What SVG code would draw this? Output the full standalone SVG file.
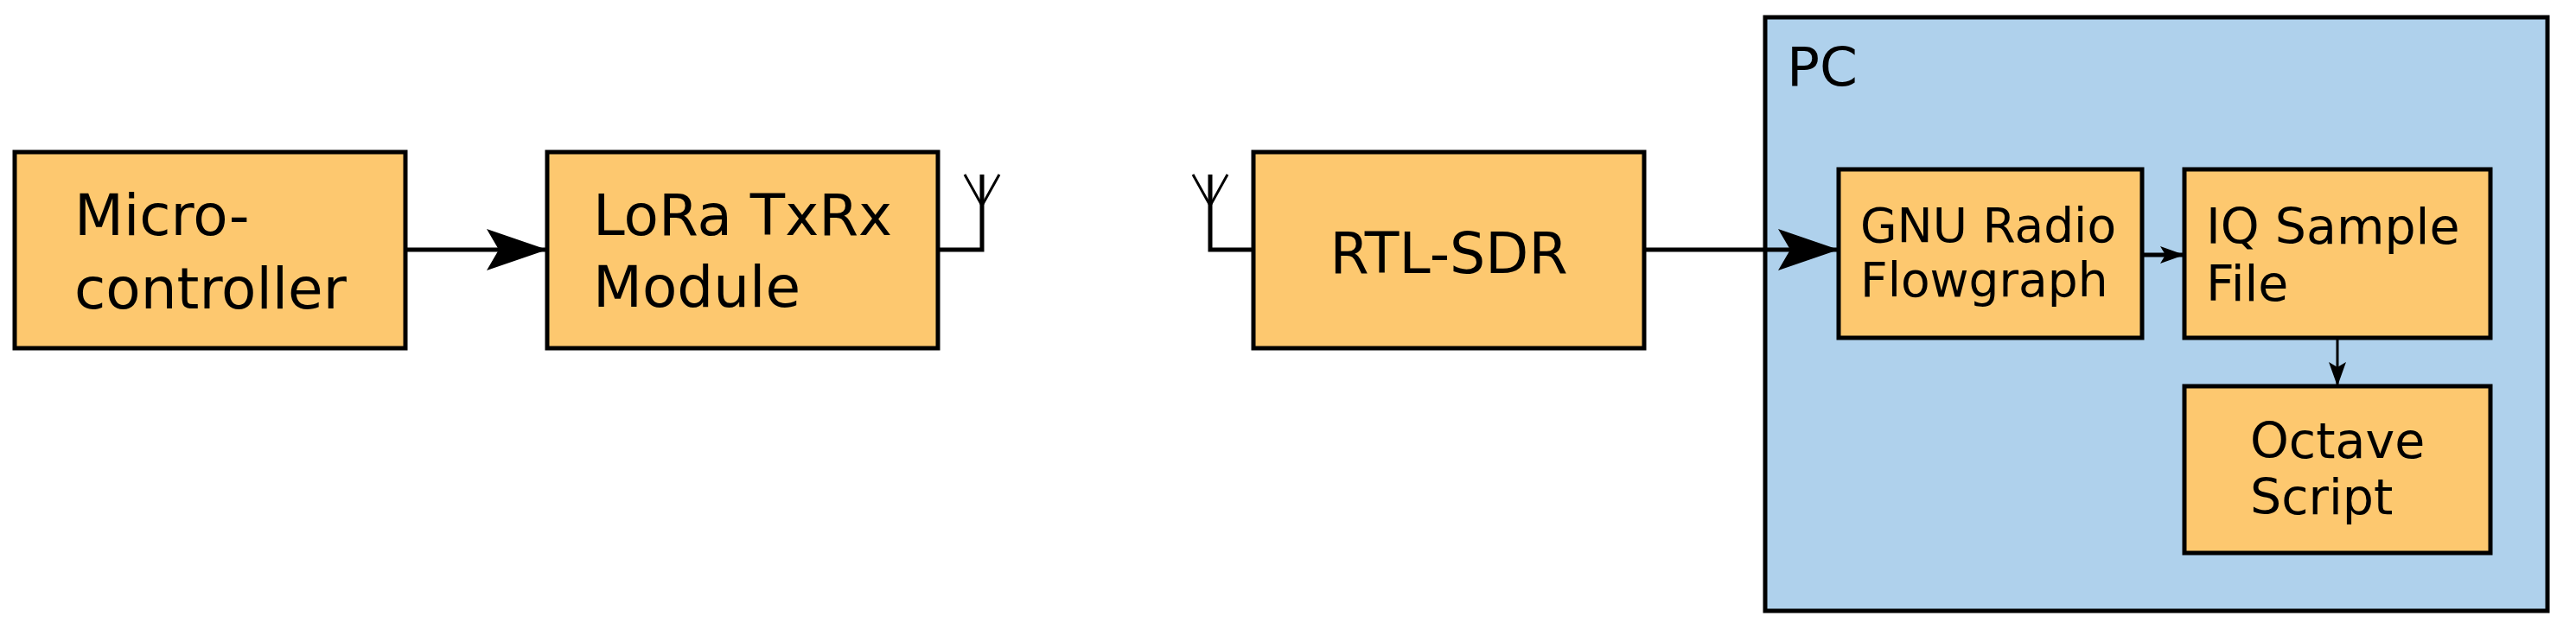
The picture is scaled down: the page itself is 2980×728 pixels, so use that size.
<svg xmlns="http://www.w3.org/2000/svg" width="2980" height="728" viewBox="0 0 2980 728">
<style>
.b{fill:#fdc86f;stroke:#000;stroke-width:5}
.t{font-family:"DejaVu Sans",sans-serif;fill:#000}
.l{fill:none;stroke:#000;stroke-width:5}
.s{fill:none;stroke:#000;stroke-width:3}
</style>
<defs>
<marker id="big" markerUnits="userSpaceOnUse" markerWidth="80" markerHeight="60" refX="70" refY="24" orient="auto"><path d="M0,0 L70,24 L0,48 L14,24 Z" fill="#000"/></marker>
<marker id="sm" markerUnits="userSpaceOnUse" markerWidth="30" markerHeight="24" refX="28" refY="10" orient="auto"><path d="M0,0 L28,10 L0,20 L6,10 Z" fill="#000"/></marker>
</defs>
<g id="pc"><rect x="2042" y="20" width="905" height="687" fill="#afd1ec" stroke="#000" stroke-width="5"/><text class="t" x="2067" y="99" font-size="63">PC</text></g>
<g id="micro"><rect class="b" x="17" y="176" width="452" height="227"/><text class="t" font-size="66"><tspan x="86" y="272">Micro-</tspan><tspan x="86" y="357">controller</tspan></text></g>
<g id="lora"><rect class="b" x="633" y="176" width="452" height="227"/><text class="t" font-size="66"><tspan x="686" y="272">LoRa TxRx</tspan><tspan x="686" y="355">Module</tspan></text></g>
<g id="rtl"><rect class="b" x="1450" y="176" width="452" height="227"/><text class="t" font-size="65" x="1676" y="316" text-anchor="middle">RTL-SDR</text></g>
<g id="gnu"><rect class="b" x="2127" y="196" width="351" height="195"/><text class="t" font-size="55"><tspan x="2152" y="280">GNU Radio</tspan><tspan x="2152" y="343">Flowgraph</tspan></text></g>
<g id="iq"><rect class="b" x="2527" y="196" width="354" height="195"/><text class="t" font-size="57"><tspan x="2552" y="282">IQ Sample</tspan><tspan x="2552" y="348">File</tspan></text></g>
<g id="octave"><rect class="b" x="2527" y="447" width="354" height="193"/><text class="t" font-size="57"><tspan x="2603" y="530">Octave</tspan><tspan x="2603" y="595">Script</tspan></text></g>
<g id="connectors">
<line class="l" x1="469" y1="289" x2="633" y2="289" marker-end="url(#big)"/>
<path class="l" d="M1085,289 H1136 V202"/>
<path class="s" d="M1116,202 L1136,238 L1156,202"/>
<path class="l" d="M1450,289 H1400 V202"/>
<path class="s" d="M1380,202 L1400,238 L1420,202"/>
<line class="l" x1="1902" y1="289" x2="2127" y2="289" marker-end="url(#big)"/>
<line class="l" x1="2478" y1="295" x2="2527" y2="295" marker-end="url(#sm)"/>
<line class="s" x1="2704" y1="391" x2="2704" y2="447" marker-end="url(#sm)"/>
</g>
</svg>
